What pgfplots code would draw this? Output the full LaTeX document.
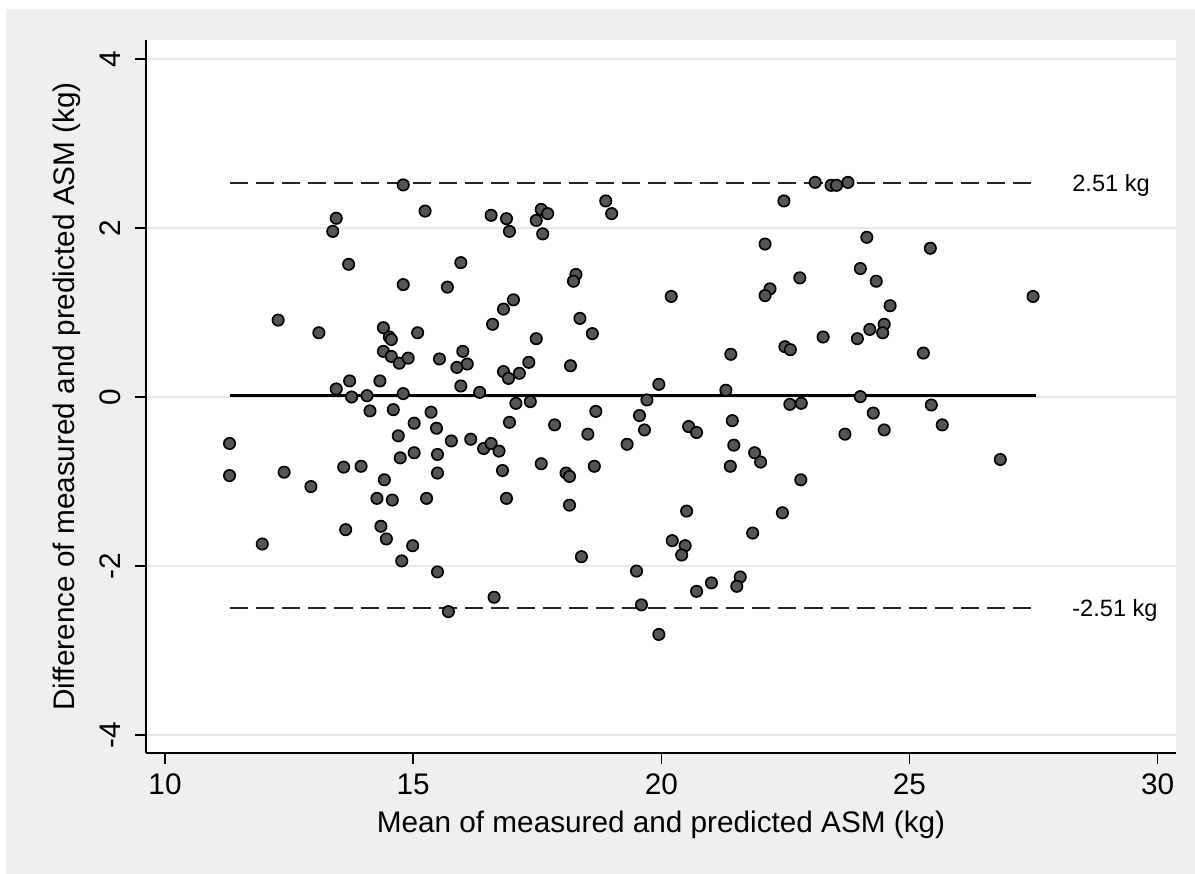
\documentclass[border=0pt]{standalone}
\usepackage{pgfplots}
\pgfplotsset{compat=1.18}
\usepackage{fontspec}
\setmainfont{Liberation Sans}
\definecolor{bgray}{RGB}{239,239,239}
\definecolor{mfill}{RGB}{85,85,85}
\definecolor{gridc}{RGB}{232,232,232}

\begin{document}
\begin{tikzpicture}
% page size and grey surround
\path[use as bounding box] (-52.56pt,-43.56pt) rectangle (377.64pt,271.08pt);
\fill[bgray] (-50.4pt,-43.56pt) rectangle (377.64pt,267.84pt);
\begin{axis}[
  at={(0,0)}, anchor=south west,
  scale only axis, width=370.8pt, height=256.68pt,
  xmin=9.617, xmax=30.37, ymin=-4.213, ymax=4.225,
  axis background/.style={fill=white},
  axis lines*=left, axis line style={line width=0.5pt, black},
  xtick={10,15,...,30}, ytick={-4,-2,...,4},
  tick align=outside, major tick length=4pt,
  tick style={black, line width=0.5pt},
  ymajorgrids, grid style={gridc, line width=0.5pt},
  font=\fontsize{10.7}{12}\selectfont,
  /pgf/number format/assume math mode=true,
  yticklabel style={rotate=90, anchor=base},
  yticklabel shift=5pt,
  xlabel={Mean of measured and predicted ASM (kg)},
  ylabel={Difference of measured and predicted ASM (kg)},
  every axis x label/.style={at={([yshift=-28.8pt]axis description cs:0.5,0)}, anchor=base},
  every axis y label/.style={at={([xshift=-25.56pt]axis description cs:0,0.5)}, anchor=base, rotate=90},
  clip=false,
]
% mean and limits of agreement
\addplot[black, line width=1pt] coordinates {(11.31,0.02) (27.55,0.02)};
\addplot[black!85, line width=0.7pt, dash pattern=on 6.5pt off 2.9pt] coordinates {(11.31,2.53) (27.55,2.53)};
\addplot[black!85, line width=0.7pt, dash pattern=on 6.5pt off 2.9pt] coordinates {(11.31,-2.50) (27.55,-2.50)};

\addplot[only marks, mark=*, mark size=2.05pt,
  mark options={fill=mfill, draw=black, line width=0.6pt}] coordinates {
(13.45,2.115) (13.38,1.96) (13.70,1.57) (14.80,2.51) (14.80,1.33)
(12.28,0.91) (13.10,0.76) (14.40,0.82) (14.52,0.71) (14.56,0.68)
(14.40,0.54) (14.56,0.48) (14.72,0.40) (14.90,0.46) (13.72,0.19)
(13.45,0.095) (14.33,0.19) (13.76,0.0) (14.07,0.015) (14.13,-0.165)
(14.60,-0.15) (14.80,0.04) (11.30,-0.55) (11.30,-0.93) (12.40,-0.89)
(12.94,-1.06) (13.60,-0.83) (13.95,-0.82) (14.42,-0.98) (14.27,-1.20)
(14.58,-1.22) (14.70,-0.46) (14.74,-0.72) (13.64,-1.57) (14.35,-1.53)
(14.46,-1.68) (11.96,-1.74) (14.77,-1.94) (15.96,0.13) (16.34,0.055)
(15.02,-0.31) (15.36,-0.18) (15.47,-0.37) (15.77,-0.52) (16.16,-0.50)
(16.42,-0.61) (16.57,-0.55) (16.73,-0.64) (16.80,-0.87) (16.88,-1.20)
(16.94,-0.30) (17.07,-0.075) (17.36,-0.055) (17.85,-0.33) (17.58,-0.79)
(18.08,-0.90) (18.15,-0.94) (18.15,-1.28) (18.52,-0.44) (18.68,-0.17)
(18.65,-0.82) (18.39,-1.89) (19.31,-0.56) (19.56,-0.22) (19.66,-0.39)
(19.50,-2.06) (19.60,-2.46) (19.71,-0.035) (14.99,-1.76) (15.49,-2.07)
(16.63,-2.37) (15.71,-2.54) (15.02,-0.66) (15.49,-0.68) (15.49,-0.90)
(15.27,-1.20) (15.24,2.20) (16.57,2.15) (16.88,2.11) (16.94,1.96)
(17.58,2.22) (17.71,2.17) (17.48,2.09) (17.61,1.93) (18.88,2.32)
(19.00,2.17) (15.96,1.59) (15.69,1.30) (17.02,1.15) (16.82,1.04)
(16.60,0.86) (18.28,1.45) (18.23,1.37) (18.36,0.93) (18.61,0.75)
(17.48,0.69) (15.09,0.76) (16.00,0.54) (15.88,0.35) (16.09,0.39)
(15.53,0.45) (16.82,0.30) (16.92,0.22) (17.14,0.28) (17.33,0.41)
(18.17,0.37) (23.10,2.54) (23.42,2.505) (23.53,2.505) (23.76,2.54)
(22.47,2.32) (24.14,1.89) (22.09,1.81) (24.01,1.52) (24.33,1.37)
(22.79,1.41) (22.19,1.28) (22.09,1.20) (20.20,1.19) (24.61,1.08)
(24.49,0.86) (24.46,0.76) (24.20,0.80) (23.95,0.69) (23.26,0.71)
(22.49,0.595) (22.60,0.56) (21.40,0.505) (19.95,0.15) (21.30,0.08)
(22.59,-0.087) (22.82,-0.075) (24.01,0.004) (24.27,-0.19) (20.55,-0.35)
(20.71,-0.42) (21.43,-0.28) (21.46,-0.57) (21.39,-0.82) (21.88,-0.66)
(22.00,-0.77) (23.70,-0.44) (24.49,-0.39) (22.81,-0.98) (22.44,-1.37)
(20.51,-1.35) (21.84,-1.61) (20.22,-1.70) (20.48,-1.76) (20.41,-1.87)
(21.59,-2.13) (21.52,-2.24) (21.01,-2.20) (20.71,-2.30) (19.95,-2.81)
(25.42,1.76) (27.49,1.19) (25.28,0.52) (25.44,-0.095) (25.66,-0.33)
(26.83,-0.74)
};

\node[anchor=base west, inner sep=0pt, yshift=-3.1pt, font=\fontsize{8.5}{10}\selectfont] at (axis cs:28.27,2.53) {2.51 kg};
\node[anchor=base west, inner sep=0pt, yshift=-3.1pt, font=\fontsize{8.5}{10}\selectfont] at (axis cs:28.27,-2.50) {-2.51 kg};
\end{axis}
\end{tikzpicture}
\end{document}
